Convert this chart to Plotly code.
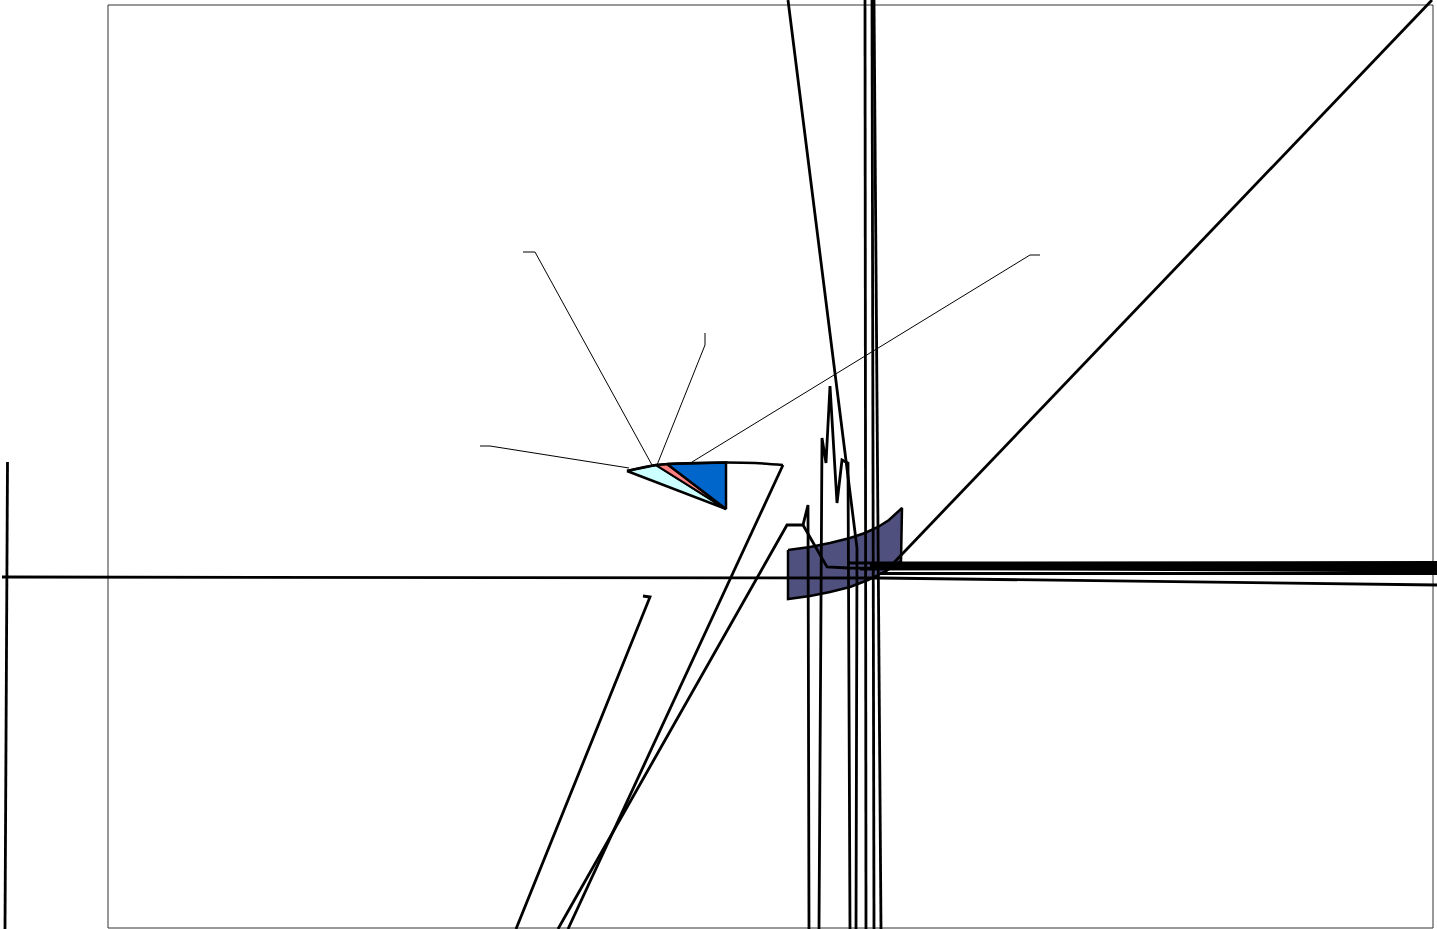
import plotly.graph_objects as go

W, H = 1437, 929

# ---- data (pixel-space polylines) ----
frame_x = [108, 1433, 1433, 108, 108]
frame_y = [5, 5, 928, 928, 5]

# pie-like wedge pieces
cyan_x = [627, 656, 726, 627]
cyan_y = [471, 465, 509, 471]
salmon_x = [656, 667, 726, 656]
salmon_y = [465, 464, 509, 465]
blue_x = [667, 695, 726, 726, 667]
blue_y = [464, 463, 462.5, 509, 464]
arc_x = [627, 656, 695, 726, 755, 783]
arc_y = [471, 465, 463, 462.5, 463, 465]

# band (ring segment)
band_x = [788, 810, 830, 850, 865, 878, 889, 896, 900, 902,
          901, 893, 882, 868, 850, 830, 810, 788, 788]
band_y = [550, 547, 543, 538, 533, 527, 520, 514, 510, 508,
          561, 567, 573, 580, 587, 592, 596, 599, 550]

# leader lines (thin)
leaders = [
    ([523, 535, 652], [252, 252, 465]),
    ([705, 705, 657], [333, 345, 465]),
    ([1040, 1030, 692], [255, 255, 462]),
    ([480, 490, 629], [446, 446, 468]),
]

# thick polylines
thick = [
    ([783, 568], [465, 929]),
    ([643, 650, 516], [596, 597, 929]),
    ([558, 787, 803, 808, 809], [929, 525, 525, 505, 929]),
    ([803, 827, 848, 1437], [525, 567, 568, 571]),
    ([819, 822, 826, 830, 837, 842, 848, 850], [929, 438, 463, 386, 503, 460, 463, 929]),
    ([788, 857, 856], [0, 548, 929]),
    ([865, 866], [0, 929]),
    ([872, 874], [0, 929]),
    ([874, 881], [0, 929]),
    ([7.5, 5], [462, 929]),
    ([2, 880, 1437], [577, 578, 585]),
    ([885, 1432], [572, 0]),
    ([847, 1437], [563, 562.5]),
    ([870, 1437], [565, 564.5]),
    ([870, 1437], [567, 566.5]),
    ([860, 1437], [569, 568.5]),
    ([880, 1437], [573.5, 573.5]),
]

fig = go.Figure()

fig.add_trace(go.Scatter(x=frame_x, y=frame_y, mode="lines",
                         line=dict(color="#333333", width=1), hoverinfo="skip"))
fig.add_trace(go.Scatter(x=band_x, y=band_y, mode="lines", fill="toself",
                         fillcolor="#50507F", line=dict(color="black", width=2.5),
                         hoverinfo="skip"))
fig.add_trace(go.Scatter(x=cyan_x, y=cyan_y, mode="lines", fill="toself",
                         fillcolor="#CCFFFF", line=dict(color="black", width=2.5), hoverinfo="skip"))
fig.add_trace(go.Scatter(x=salmon_x, y=salmon_y, mode="lines", fill="toself",
                         fillcolor="#FF8080", line=dict(color="black", width=2), hoverinfo="skip"))
fig.add_trace(go.Scatter(x=blue_x, y=blue_y, mode="lines", fill="toself",
                         fillcolor="#0066CC", line=dict(color="black", width=2.5), hoverinfo="skip"))
fig.add_trace(go.Scatter(x=arc_x, y=arc_y, mode="lines", line_shape="spline",
                         line=dict(color="black", width=2.5), hoverinfo="skip"))

for lx, ly in leaders:
    fig.add_trace(go.Scatter(x=lx, y=ly, mode="lines",
                             line=dict(color="black", width=1), hoverinfo="skip"))
for tx, ty in thick:
    fig.add_trace(go.Scatter(x=tx, y=ty, mode="lines",
                             line=dict(color="black", width=2.8), hoverinfo="skip"))

fig.update_layout(
    width=W, height=H, margin=dict(l=0, r=0, t=0, b=0),
    paper_bgcolor="white", plot_bgcolor="white", showlegend=False,
    xaxis=dict(range=[0, W], visible=False, fixedrange=True),
    yaxis=dict(range=[H, 0], visible=False, fixedrange=True),
)
fig.write_html("out.html", config={"displayModeBar": False},
               post_script="document.body.style.margin='0';document.body.style.overflow='hidden';")
